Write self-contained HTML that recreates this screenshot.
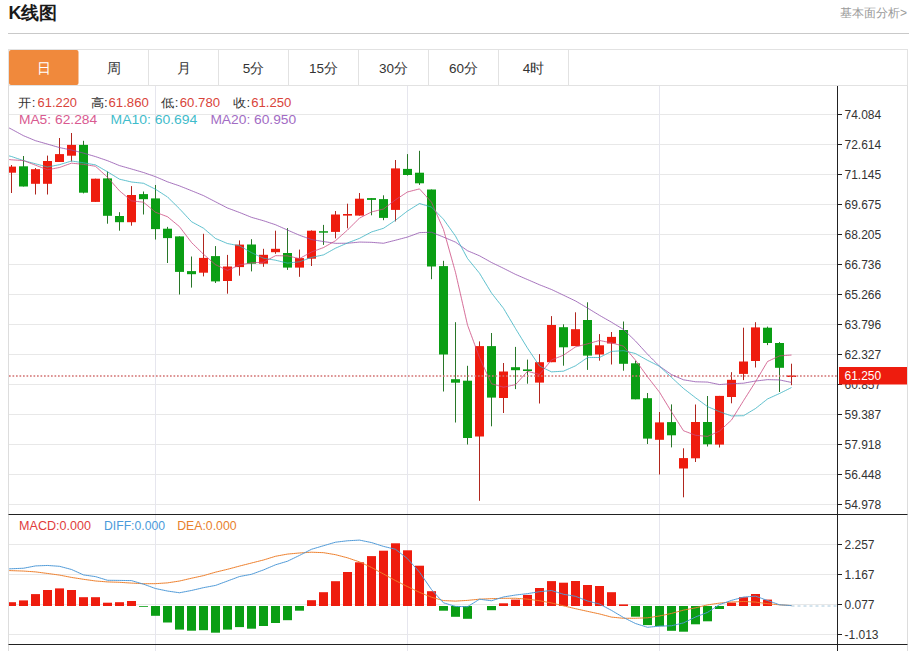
<!DOCTYPE html><html><head><meta charset="utf-8"><title>K线图</title><style>
html,body{margin:0;padding:0;background:#fff;width:914px;height:651px;overflow:hidden;}
svg{display:block;font-family:"Liberation Sans", sans-serif;}
</style></head><body>
<svg width="914" height="651" viewBox="0 0 914 651">
<rect x="0" y="0" width="914" height="651" fill="#fff"/>
<text x="8.5" y="18.8" font-size="18" font-weight="bold" fill="#1a1a1a">K线图</text>
<text x="907" y="16.5" font-size="12" fill="#9a9a9a" text-anchor="end">基本面分析&gt;</text>
<line x1="8" y1="33.5" x2="909" y2="33.5" stroke="#c9c9c9" stroke-width="1"/>
<rect x="8.5" y="49.5" width="899" height="36" fill="#fff" stroke="#e2e2e2" stroke-width="1"/>
<rect x="9" y="50" width="69.5" height="35" rx="2" fill="#f0893c"/>
<text x="43.5" y="72.8" font-size="13.5" fill="#fff" text-anchor="middle">日</text>
<line x1="148.5" y1="50" x2="148.5" y2="85" stroke="#e2e2e2" stroke-width="1"/>
<text x="113.5" y="72.8" font-size="13.5" fill="#333" text-anchor="middle">周</text>
<line x1="218.5" y1="50" x2="218.5" y2="85" stroke="#e2e2e2" stroke-width="1"/>
<text x="183.5" y="72.8" font-size="13.5" fill="#333" text-anchor="middle">月</text>
<line x1="288.5" y1="50" x2="288.5" y2="85" stroke="#e2e2e2" stroke-width="1"/>
<text x="253.5" y="72.8" font-size="13.5" fill="#333" text-anchor="middle">5分</text>
<line x1="358.5" y1="50" x2="358.5" y2="85" stroke="#e2e2e2" stroke-width="1"/>
<text x="323.5" y="72.8" font-size="13.5" fill="#333" text-anchor="middle">15分</text>
<line x1="428.5" y1="50" x2="428.5" y2="85" stroke="#e2e2e2" stroke-width="1"/>
<text x="393.5" y="72.8" font-size="13.5" fill="#333" text-anchor="middle">30分</text>
<line x1="498.5" y1="50" x2="498.5" y2="85" stroke="#e2e2e2" stroke-width="1"/>
<text x="463.5" y="72.8" font-size="13.5" fill="#333" text-anchor="middle">60分</text>
<line x1="568.5" y1="50" x2="568.5" y2="85" stroke="#e2e2e2" stroke-width="1"/>
<text x="533.5" y="72.8" font-size="13.5" fill="#333" text-anchor="middle">4时</text>
<line x1="8.5" y1="85.5" x2="8.5" y2="651" stroke="#dddddd" stroke-width="1"/>
<line x1="907.5" y1="85.5" x2="907.5" y2="651" stroke="#dddddd" stroke-width="1"/>
<line x1="9" y1="114.5" x2="837" y2="114.5" stroke="#e8e8e8" stroke-width="1"/>
<line x1="9" y1="144.5" x2="837" y2="144.5" stroke="#e8e8e8" stroke-width="1"/>
<line x1="9" y1="174.5" x2="837" y2="174.5" stroke="#e8e8e8" stroke-width="1"/>
<line x1="9" y1="204.5" x2="837" y2="204.5" stroke="#e8e8e8" stroke-width="1"/>
<line x1="9" y1="234.5" x2="837" y2="234.5" stroke="#e8e8e8" stroke-width="1"/>
<line x1="9" y1="264.5" x2="837" y2="264.5" stroke="#e8e8e8" stroke-width="1"/>
<line x1="9" y1="294.5" x2="837" y2="294.5" stroke="#e8e8e8" stroke-width="1"/>
<line x1="9" y1="324.5" x2="837" y2="324.5" stroke="#e8e8e8" stroke-width="1"/>
<line x1="9" y1="354.5" x2="837" y2="354.5" stroke="#e8e8e8" stroke-width="1"/>
<line x1="9" y1="384.5" x2="837" y2="384.5" stroke="#e8e8e8" stroke-width="1"/>
<line x1="9" y1="414.5" x2="837" y2="414.5" stroke="#e8e8e8" stroke-width="1"/>
<line x1="9" y1="444.5" x2="837" y2="444.5" stroke="#e8e8e8" stroke-width="1"/>
<line x1="9" y1="474.5" x2="837" y2="474.5" stroke="#e8e8e8" stroke-width="1"/>
<line x1="9" y1="504.5" x2="837" y2="504.5" stroke="#e8e8e8" stroke-width="1"/>
<line x1="9" y1="544.5" x2="837" y2="544.5" stroke="#e8e8e8" stroke-width="1"/>
<line x1="9" y1="574.5" x2="837" y2="574.5" stroke="#e8e8e8" stroke-width="1"/>
<line x1="9" y1="604.5" x2="837" y2="604.5" stroke="#e8e8e8" stroke-width="1"/>
<line x1="9" y1="634.5" x2="837" y2="634.5" stroke="#e8e8e8" stroke-width="1"/>
<line x1="155.5" y1="86" x2="155.5" y2="651" stroke="#e6e6ee" stroke-width="1"/>
<line x1="407.5" y1="86" x2="407.5" y2="651" stroke="#e6e6ee" stroke-width="1"/>
<line x1="659.5" y1="86" x2="659.5" y2="651" stroke="#e6e6ee" stroke-width="1"/>
<line x1="837.5" y1="86" x2="837.5" y2="651" stroke="#222" stroke-width="1"/>
<line x1="8.5" y1="514.5" x2="907.5" y2="514.5" stroke="#222" stroke-width="1"/>
<line x1="8.5" y1="644.5" x2="907.5" y2="644.5" stroke="#222" stroke-width="1"/>
<line x1="838" y1="114.5" x2="842" y2="114.5" stroke="#222" stroke-width="1"/>
<text x="844.5" y="118.8" font-size="12" fill="#333">74.084</text>
<line x1="838" y1="144.5" x2="842" y2="144.5" stroke="#222" stroke-width="1"/>
<text x="844.5" y="148.8" font-size="12" fill="#333">72.614</text>
<line x1="838" y1="174.5" x2="842" y2="174.5" stroke="#222" stroke-width="1"/>
<text x="844.5" y="178.8" font-size="12" fill="#333">71.145</text>
<line x1="838" y1="204.5" x2="842" y2="204.5" stroke="#222" stroke-width="1"/>
<text x="844.5" y="208.8" font-size="12" fill="#333">69.675</text>
<line x1="838" y1="234.5" x2="842" y2="234.5" stroke="#222" stroke-width="1"/>
<text x="844.5" y="238.8" font-size="12" fill="#333">68.205</text>
<line x1="838" y1="264.5" x2="842" y2="264.5" stroke="#222" stroke-width="1"/>
<text x="844.5" y="268.8" font-size="12" fill="#333">66.736</text>
<line x1="838" y1="294.5" x2="842" y2="294.5" stroke="#222" stroke-width="1"/>
<text x="844.5" y="298.8" font-size="12" fill="#333">65.266</text>
<line x1="838" y1="324.5" x2="842" y2="324.5" stroke="#222" stroke-width="1"/>
<text x="844.5" y="328.8" font-size="12" fill="#333">63.796</text>
<line x1="838" y1="354.5" x2="842" y2="354.5" stroke="#222" stroke-width="1"/>
<text x="844.5" y="358.8" font-size="12" fill="#333">62.327</text>
<line x1="838" y1="384.5" x2="842" y2="384.5" stroke="#222" stroke-width="1"/>
<text x="844.5" y="388.8" font-size="12" fill="#333">60.857</text>
<line x1="838" y1="414.5" x2="842" y2="414.5" stroke="#222" stroke-width="1"/>
<text x="844.5" y="418.8" font-size="12" fill="#333">59.387</text>
<line x1="838" y1="444.5" x2="842" y2="444.5" stroke="#222" stroke-width="1"/>
<text x="844.5" y="448.8" font-size="12" fill="#333">57.918</text>
<line x1="838" y1="474.5" x2="842" y2="474.5" stroke="#222" stroke-width="1"/>
<text x="844.5" y="478.8" font-size="12" fill="#333">56.448</text>
<line x1="838" y1="504.5" x2="842" y2="504.5" stroke="#222" stroke-width="1"/>
<text x="844.5" y="508.8" font-size="12" fill="#333">54.978</text>
<line x1="838" y1="544.5" x2="842" y2="544.5" stroke="#222" stroke-width="1"/>
<text x="844.5" y="548.8" font-size="12" fill="#333">2.257</text>
<line x1="838" y1="574.5" x2="842" y2="574.5" stroke="#222" stroke-width="1"/>
<text x="844.5" y="578.8" font-size="12" fill="#333">1.167</text>
<line x1="838" y1="604.5" x2="842" y2="604.5" stroke="#222" stroke-width="1"/>
<text x="844.5" y="608.8" font-size="12" fill="#333">0.077</text>
<line x1="838" y1="634.5" x2="842" y2="634.5" stroke="#222" stroke-width="1"/>
<text x="844.5" y="638.8" font-size="12" fill="#333">-1.013</text>
<defs><clipPath id="cm"><rect x="9" y="86" width="828" height="428"/></clipPath>
<clipPath id="cd"><rect x="9" y="515" width="828" height="129"/></clipPath></defs>
<g clip-path="url(#cm)">
<line x1="11.5" y1="165.0" x2="11.5" y2="193.0" stroke="#b0261e" stroke-width="1"/>
<rect x="7.0" y="166.6" width="9" height="6.1" fill="#ee1c0e"/>
<line x1="23.5" y1="156.0" x2="23.5" y2="186.5" stroke="#287628" stroke-width="1"/>
<rect x="19.0" y="166.3" width="9" height="20.2" fill="#0a9e14"/>
<line x1="35.5" y1="168.0" x2="35.5" y2="194.5" stroke="#b0261e" stroke-width="1"/>
<rect x="31.0" y="169.2" width="9" height="14.6" fill="#ee1c0e"/>
<line x1="47.5" y1="155.6" x2="47.5" y2="194.5" stroke="#b0261e" stroke-width="1"/>
<rect x="43.0" y="161.0" width="9" height="22.8" fill="#ee1c0e"/>
<line x1="59.5" y1="138.0" x2="59.5" y2="162.0" stroke="#b0261e" stroke-width="1"/>
<rect x="55.0" y="154.1" width="9" height="7.9" fill="#ee1c0e"/>
<line x1="71.5" y1="133.0" x2="71.5" y2="161.5" stroke="#b0261e" stroke-width="1"/>
<rect x="67.0" y="144.9" width="9" height="10.8" fill="#ee1c0e"/>
<line x1="83.5" y1="140.8" x2="83.5" y2="193.4" stroke="#287628" stroke-width="1"/>
<rect x="79.0" y="144.9" width="9" height="47.8" fill="#0a9e14"/>
<line x1="95.5" y1="178.7" x2="95.5" y2="201.9" stroke="#b0261e" stroke-width="1"/>
<rect x="91.0" y="178.7" width="9" height="23.2" fill="#ee1c0e"/>
<line x1="107.5" y1="171.5" x2="107.5" y2="223.7" stroke="#287628" stroke-width="1"/>
<rect x="103.0" y="178.4" width="9" height="37.4" fill="#0a9e14"/>
<line x1="119.5" y1="212.2" x2="119.5" y2="230.7" stroke="#287628" stroke-width="1"/>
<rect x="115.0" y="216.0" width="9" height="6.2" fill="#0a9e14"/>
<line x1="131.5" y1="186.1" x2="131.5" y2="225.7" stroke="#b0261e" stroke-width="1"/>
<rect x="127.0" y="195.0" width="9" height="27.2" fill="#ee1c0e"/>
<line x1="143.5" y1="191.5" x2="143.5" y2="214.5" stroke="#287628" stroke-width="1"/>
<rect x="139.0" y="194.1" width="9" height="5.1" fill="#0a9e14"/>
<line x1="155.5" y1="185.0" x2="155.5" y2="239.5" stroke="#287628" stroke-width="1"/>
<rect x="151.0" y="198.4" width="9" height="30.7" fill="#0a9e14"/>
<line x1="167.5" y1="226.9" x2="167.5" y2="263.0" stroke="#287628" stroke-width="1"/>
<rect x="163.0" y="228.7" width="9" height="9.4" fill="#0a9e14"/>
<line x1="179.5" y1="236.4" x2="179.5" y2="294.5" stroke="#287628" stroke-width="1"/>
<rect x="175.0" y="236.4" width="9" height="35.5" fill="#0a9e14"/>
<line x1="191.5" y1="256.5" x2="191.5" y2="287.6" stroke="#287628" stroke-width="1"/>
<rect x="187.0" y="271.1" width="9" height="3.1" fill="#0a9e14"/>
<line x1="203.5" y1="233.8" x2="203.5" y2="276.4" stroke="#b0261e" stroke-width="1"/>
<rect x="199.0" y="257.9" width="9" height="14.8" fill="#ee1c0e"/>
<line x1="215.5" y1="246.1" x2="215.5" y2="283.0" stroke="#287628" stroke-width="1"/>
<rect x="211.0" y="256.1" width="9" height="25.3" fill="#0a9e14"/>
<line x1="227.5" y1="254.9" x2="227.5" y2="293.7" stroke="#b0261e" stroke-width="1"/>
<rect x="223.0" y="266.5" width="9" height="14.5" fill="#ee1c0e"/>
<line x1="239.5" y1="240.4" x2="239.5" y2="275.7" stroke="#b0261e" stroke-width="1"/>
<rect x="235.0" y="244.6" width="9" height="22.5" fill="#ee1c0e"/>
<line x1="251.5" y1="239.2" x2="251.5" y2="271.4" stroke="#287628" stroke-width="1"/>
<rect x="247.0" y="244.5" width="9" height="19.2" fill="#0a9e14"/>
<line x1="263.5" y1="248.8" x2="263.5" y2="266.8" stroke="#b0261e" stroke-width="1"/>
<rect x="259.0" y="254.8" width="9" height="8.9" fill="#ee1c0e"/>
<line x1="275.5" y1="230.7" x2="275.5" y2="253.8" stroke="#b0261e" stroke-width="1"/>
<rect x="271.0" y="248.8" width="9" height="3.4" fill="#ee1c0e"/>
<line x1="287.5" y1="228.1" x2="287.5" y2="269.9" stroke="#287628" stroke-width="1"/>
<rect x="283.0" y="253.0" width="9" height="14.6" fill="#0a9e14"/>
<line x1="299.5" y1="249.6" x2="299.5" y2="276.8" stroke="#b0261e" stroke-width="1"/>
<rect x="295.0" y="258.1" width="9" height="9.5" fill="#ee1c0e"/>
<line x1="311.5" y1="230.4" x2="311.5" y2="266.0" stroke="#b0261e" stroke-width="1"/>
<rect x="307.0" y="230.7" width="9" height="28.0" fill="#ee1c0e"/>
<line x1="323.5" y1="224.9" x2="323.5" y2="244.9" stroke="#287628" stroke-width="1"/>
<rect x="319.0" y="231.2" width="9" height="1.5" fill="#0a9e14"/>
<line x1="335.5" y1="211.0" x2="335.5" y2="238.4" stroke="#b0261e" stroke-width="1"/>
<rect x="331.0" y="214.5" width="9" height="17.4" fill="#ee1c0e"/>
<line x1="347.5" y1="203.7" x2="347.5" y2="228.3" stroke="#b0261e" stroke-width="1"/>
<rect x="343.0" y="214.0" width="9" height="1.6" fill="#ee1c0e"/>
<line x1="359.5" y1="193.0" x2="359.5" y2="215.6" stroke="#b0261e" stroke-width="1"/>
<rect x="355.0" y="198.7" width="9" height="16.9" fill="#ee1c0e"/>
<line x1="371.5" y1="198.1" x2="371.5" y2="215.3" stroke="#287628" stroke-width="1"/>
<rect x="367.0" y="198.1" width="9" height="1.8" fill="#0a9e14"/>
<line x1="383.5" y1="195.3" x2="383.5" y2="220.2" stroke="#287628" stroke-width="1"/>
<rect x="379.0" y="199.1" width="9" height="18.8" fill="#0a9e14"/>
<line x1="395.5" y1="160.0" x2="395.5" y2="221.4" stroke="#b0261e" stroke-width="1"/>
<rect x="391.0" y="168.4" width="9" height="41.5" fill="#ee1c0e"/>
<line x1="407.5" y1="154.1" x2="407.5" y2="175.6" stroke="#287628" stroke-width="1"/>
<rect x="403.0" y="168.9" width="9" height="6.1" fill="#0a9e14"/>
<line x1="419.5" y1="150.8" x2="419.5" y2="184.9" stroke="#287628" stroke-width="1"/>
<rect x="415.0" y="172.7" width="9" height="10.6" fill="#0a9e14"/>
<line x1="431.5" y1="189.5" x2="431.5" y2="279.2" stroke="#287628" stroke-width="1"/>
<rect x="427.0" y="189.5" width="9" height="77.0" fill="#0a9e14"/>
<line x1="443.5" y1="260.8" x2="443.5" y2="391.5" stroke="#287628" stroke-width="1"/>
<rect x="439.0" y="266.1" width="9" height="88.4" fill="#0a9e14"/>
<line x1="455.5" y1="322.2" x2="455.5" y2="422.5" stroke="#287628" stroke-width="1"/>
<rect x="451.0" y="379.2" width="9" height="3.5" fill="#0a9e14"/>
<line x1="467.5" y1="365.8" x2="467.5" y2="444.5" stroke="#287628" stroke-width="1"/>
<rect x="463.0" y="380.7" width="9" height="57.3" fill="#0a9e14"/>
<line x1="479.5" y1="341.4" x2="479.5" y2="500.8" stroke="#b0261e" stroke-width="1"/>
<rect x="475.0" y="346.1" width="9" height="90.4" fill="#ee1c0e"/>
<line x1="491.5" y1="333.0" x2="491.5" y2="426.3" stroke="#287628" stroke-width="1"/>
<rect x="487.0" y="346.1" width="9" height="51.5" fill="#0a9e14"/>
<line x1="503.5" y1="363.0" x2="503.5" y2="413.0" stroke="#b0261e" stroke-width="1"/>
<rect x="499.0" y="371.5" width="9" height="26.5" fill="#ee1c0e"/>
<line x1="515.5" y1="346.9" x2="515.5" y2="389.1" stroke="#287628" stroke-width="1"/>
<rect x="511.0" y="367.2" width="9" height="3.0" fill="#0a9e14"/>
<line x1="527.5" y1="359.6" x2="527.5" y2="383.7" stroke="#287628" stroke-width="1"/>
<rect x="523.0" y="369.4" width="9" height="1.6" fill="#0a9e14"/>
<line x1="539.5" y1="354.1" x2="539.5" y2="403.5" stroke="#b0261e" stroke-width="1"/>
<rect x="535.0" y="362.2" width="9" height="20.4" fill="#ee1c0e"/>
<line x1="551.5" y1="316.1" x2="551.5" y2="362.2" stroke="#b0261e" stroke-width="1"/>
<rect x="547.0" y="325.0" width="9" height="37.2" fill="#ee1c0e"/>
<line x1="563.5" y1="324.3" x2="563.5" y2="365.7" stroke="#287628" stroke-width="1"/>
<rect x="559.0" y="327.2" width="9" height="20.1" fill="#0a9e14"/>
<line x1="575.5" y1="312.3" x2="575.5" y2="346.1" stroke="#b0261e" stroke-width="1"/>
<rect x="571.0" y="329.2" width="9" height="16.9" fill="#ee1c0e"/>
<line x1="587.5" y1="302.3" x2="587.5" y2="369.9" stroke="#287628" stroke-width="1"/>
<rect x="583.0" y="320.0" width="9" height="35.6" fill="#0a9e14"/>
<line x1="599.5" y1="334.1" x2="599.5" y2="360.7" stroke="#b0261e" stroke-width="1"/>
<rect x="595.0" y="345.3" width="9" height="9.2" fill="#ee1c0e"/>
<line x1="611.5" y1="332.0" x2="611.5" y2="364.5" stroke="#b0261e" stroke-width="1"/>
<rect x="607.0" y="336.9" width="9" height="6.6" fill="#ee1c0e"/>
<line x1="623.5" y1="321.5" x2="623.5" y2="370.7" stroke="#287628" stroke-width="1"/>
<rect x="619.0" y="330.0" width="9" height="33.8" fill="#0a9e14"/>
<line x1="635.5" y1="360.7" x2="635.5" y2="399.3" stroke="#287628" stroke-width="1"/>
<rect x="631.0" y="363.3" width="9" height="36.0" fill="#0a9e14"/>
<line x1="647.5" y1="393.0" x2="647.5" y2="444.0" stroke="#287628" stroke-width="1"/>
<rect x="643.0" y="398.2" width="9" height="40.4" fill="#0a9e14"/>
<line x1="659.5" y1="412.0" x2="659.5" y2="474.5" stroke="#b0261e" stroke-width="1"/>
<rect x="655.0" y="422.4" width="9" height="17.4" fill="#ee1c0e"/>
<line x1="671.5" y1="404.4" x2="671.5" y2="447.4" stroke="#287628" stroke-width="1"/>
<rect x="667.0" y="422.1" width="9" height="13.2" fill="#0a9e14"/>
<line x1="683.5" y1="448.3" x2="683.5" y2="497.3" stroke="#b0261e" stroke-width="1"/>
<rect x="679.0" y="458.1" width="9" height="10.4" fill="#ee1c0e"/>
<line x1="695.5" y1="404.5" x2="695.5" y2="462.0" stroke="#b0261e" stroke-width="1"/>
<rect x="691.0" y="422.0" width="9" height="36.3" fill="#ee1c0e"/>
<line x1="707.5" y1="396.0" x2="707.5" y2="446.5" stroke="#287628" stroke-width="1"/>
<rect x="703.0" y="422.0" width="9" height="22.3" fill="#0a9e14"/>
<line x1="719.5" y1="395.9" x2="719.5" y2="447.5" stroke="#b0261e" stroke-width="1"/>
<rect x="715.0" y="395.9" width="9" height="48.7" fill="#ee1c0e"/>
<line x1="731.5" y1="372.2" x2="731.5" y2="403.3" stroke="#b0261e" stroke-width="1"/>
<rect x="727.0" y="379.8" width="9" height="17.2" fill="#ee1c0e"/>
<line x1="743.5" y1="327.7" x2="743.5" y2="380.1" stroke="#b0261e" stroke-width="1"/>
<rect x="739.0" y="361.5" width="9" height="12.4" fill="#ee1c0e"/>
<line x1="755.5" y1="322.2" x2="755.5" y2="367.5" stroke="#b0261e" stroke-width="1"/>
<rect x="751.0" y="327.4" width="9" height="33.6" fill="#ee1c0e"/>
<line x1="767.5" y1="326.6" x2="767.5" y2="345.1" stroke="#287628" stroke-width="1"/>
<rect x="763.0" y="327.7" width="9" height="15.3" fill="#0a9e14"/>
<line x1="779.5" y1="342.1" x2="779.5" y2="392.0" stroke="#287628" stroke-width="1"/>
<rect x="775.0" y="343.0" width="9" height="24.8" fill="#0a9e14"/>
<line x1="791.5" y1="363.7" x2="791.5" y2="385.2" stroke="#b0261e" stroke-width="1"/>
<rect x="787.0" y="375.5" width="9" height="1.5" fill="#ee1c0e"/>
<line x1="9" y1="376" x2="837" y2="376" stroke="#d27272" stroke-width="1.5" stroke-dasharray="1.7,1.8"/>
<path d="M-0.50,123.00 C-0.50,123.00 11.50,129.20 11.50,129.20 C11.50,129.20 23.50,135.70 23.50,135.70 C23.50,135.70 35.50,140.70 35.50,140.70 C35.50,140.70 47.50,144.10 47.50,144.10 C47.50,144.10 59.50,147.60 59.50,147.60 C59.50,147.60 71.50,150.00 71.50,150.00 C71.50,150.00 83.50,153.10 83.50,153.10 C83.50,153.10 95.50,156.60 95.50,156.60 C95.50,156.60 107.50,160.70 107.50,160.70 C107.50,160.70 119.50,165.60 119.50,165.60 C119.50,165.60 131.50,169.00 131.50,169.00 C131.50,169.00 143.50,172.50 143.50,172.50 C143.50,172.50 155.50,176.70 155.50,176.70 C155.50,176.70 167.50,181.80 167.50,181.80 C167.50,181.80 179.50,185.90 179.50,185.90 C179.50,185.90 191.50,190.70 191.50,190.70 C191.50,190.70 203.50,195.60 203.50,195.60 C203.50,195.60 215.50,201.80 215.50,201.80 C215.50,201.80 227.50,208.00 227.50,208.00 C227.50,208.00 239.50,212.48 239.50,212.48 C239.50,212.48 251.50,217.33 251.50,217.33 C251.50,217.33 263.50,220.75 263.50,220.75 C263.50,220.75 275.50,224.73 275.50,224.73 C275.50,224.73 287.50,230.06 287.50,230.06 C287.50,230.06 299.50,235.26 299.50,235.26 C299.50,235.26 311.50,239.55 311.50,239.55 C311.50,239.55 323.50,241.55 323.50,241.55 C323.50,241.55 335.50,243.34 335.50,243.34 C335.50,243.34 347.50,243.25 347.50,243.25 C347.50,243.25 359.50,242.07 359.50,242.07 C359.50,242.07 371.50,242.32 371.50,242.32 C371.50,242.32 383.50,243.26 383.50,243.26 C383.50,243.26 395.50,240.22 395.50,240.22 C395.50,240.22 407.50,237.06 407.50,237.06 C407.50,237.06 419.50,232.63 419.50,232.63 C419.50,232.63 431.50,232.25 431.50,232.25 C431.50,232.25 443.50,237.08 443.50,237.08 C443.50,237.08 455.50,242.14 455.50,242.14 C455.50,242.14 467.50,250.72 467.50,250.72 C467.50,250.72 479.50,255.79 479.50,255.79 C479.50,255.79 491.50,262.49 491.50,262.49 C491.50,262.49 503.50,268.32 503.50,268.32 C503.50,268.32 515.50,274.39 515.50,274.39 C515.50,274.39 527.50,279.56 527.50,279.56 C527.50,279.56 539.50,284.77 539.50,284.77 C539.50,284.77 551.50,289.49 551.50,289.49 C551.50,289.49 563.50,295.22 563.50,295.22 C563.50,295.22 575.50,300.95 575.50,300.95 C575.50,300.95 587.50,308.03 587.50,308.03 C587.50,308.03 599.50,315.36 599.50,315.36 C599.50,315.36 611.50,322.21 611.50,322.21 C611.50,322.21 623.50,329.50 623.50,329.50 C623.50,329.50 635.50,341.05 635.50,341.05 C635.50,341.05 647.50,354.23 647.50,354.23 C647.50,354.23 659.50,366.19 659.50,366.19 C659.50,366.19 671.50,374.62 671.50,374.62 C671.50,374.62 683.50,379.81 683.50,379.81 C683.50,379.81 695.50,381.77 695.50,381.77 C695.50,381.77 707.50,382.08 707.50,382.08 C707.50,382.08 719.50,384.57 719.50,384.57 C719.50,384.57 731.50,383.69 731.50,383.69 C731.50,383.69 743.50,383.19 743.50,383.19 C743.50,383.19 755.50,381.04 755.50,381.04 C755.50,381.04 767.50,379.64 767.50,379.64 C767.50,379.64 779.50,379.93 779.50,379.93 C779.50,379.93 791.50,382.45 791.50,382.45" fill="none" stroke="#9050ac" stroke-width="1" stroke-opacity="0.8"/>
<path d="M-0.50,153.50 C-0.50,153.50 11.50,156.50 11.50,156.50 C11.50,156.50 23.50,160.60 23.50,160.60 C23.50,160.60 35.50,163.80 35.50,163.80 C35.50,163.80 47.50,167.00 47.50,167.00 C47.50,167.00 59.50,164.70 59.50,164.70 C59.50,164.70 71.50,161.00 71.50,161.00 C71.50,161.00 83.50,162.80 83.50,162.80 C83.50,162.80 95.50,164.90 95.50,164.90 C95.50,164.90 107.50,171.80 107.50,171.80 C107.50,171.80 119.50,179.17 119.50,179.17 C119.50,179.17 131.50,182.01 131.50,182.01 C131.50,182.01 143.50,183.28 143.50,183.28 C143.50,183.28 155.50,189.27 155.50,189.27 C155.50,189.27 167.50,196.98 167.50,196.98 C167.50,196.98 179.50,208.76 179.50,208.76 C179.50,208.76 191.50,221.69 191.50,221.69 C191.50,221.69 203.50,228.21 203.50,228.21 C203.50,228.21 215.50,238.48 215.50,238.48 C215.50,238.48 227.50,243.55 227.50,243.55 C227.50,243.55 239.50,245.79 239.50,245.79 C239.50,245.79 251.50,252.66 251.50,252.66 C251.50,252.66 263.50,258.22 263.50,258.22 C263.50,258.22 275.50,260.19 275.50,260.19 C275.50,260.19 287.50,263.14 287.50,263.14 C287.50,263.14 299.50,261.76 299.50,261.76 C299.50,261.76 311.50,257.41 311.50,257.41 C311.50,257.41 323.50,254.89 323.50,254.89 C323.50,254.89 335.50,248.20 335.50,248.20 C335.50,248.20 347.50,242.95 347.50,242.95 C347.50,242.95 359.50,238.36 359.50,238.36 C359.50,238.36 371.50,231.98 371.50,231.98 C371.50,231.98 383.50,228.29 383.50,228.29 C383.50,228.29 395.50,220.25 395.50,220.25 C395.50,220.25 407.50,210.99 407.50,210.99 C407.50,210.99 419.50,203.51 419.50,203.51 C419.50,203.51 431.50,207.09 431.50,207.09 C431.50,207.09 443.50,219.27 443.50,219.27 C443.50,219.27 455.50,236.09 455.50,236.09 C455.50,236.09 467.50,258.49 467.50,258.49 C467.50,258.49 479.50,273.23 479.50,273.23 C479.50,273.23 491.50,293.00 491.50,293.00 C491.50,293.00 503.50,308.36 503.50,308.36 C503.50,308.36 515.50,328.54 515.50,328.54 C515.50,328.54 527.50,348.14 527.50,348.14 C527.50,348.14 539.50,366.03 539.50,366.03 C539.50,366.03 551.50,371.88 551.50,371.88 C551.50,371.88 563.50,371.16 563.50,371.16 C563.50,371.16 575.50,365.81 575.50,365.81 C575.50,365.81 587.50,357.57 587.50,357.57 C587.50,357.57 599.50,357.49 599.50,357.49 C599.50,357.49 611.50,351.42 611.50,351.42 C611.50,351.42 623.50,350.65 623.50,350.65 C623.50,350.65 635.50,353.56 635.50,353.56 C635.50,353.56 647.50,360.32 647.50,360.32 C647.50,360.32 659.50,366.34 659.50,366.34 C659.50,366.34 671.50,377.37 671.50,377.37 C671.50,377.37 683.50,388.45 683.50,388.45 C683.50,388.45 695.50,397.73 695.50,397.73 C695.50,397.73 707.50,406.60 707.50,406.60 C707.50,406.60 719.50,411.66 719.50,411.66 C719.50,411.66 731.50,415.95 731.50,415.95 C731.50,415.95 743.50,415.72 743.50,415.72 C743.50,415.72 755.50,408.53 755.50,408.53 C755.50,408.53 767.50,398.97 767.50,398.97 C767.50,398.97 779.50,393.51 779.50,393.51 C779.50,393.51 791.50,387.53 791.50,387.53" fill="none" stroke="#36b0c0" stroke-width="1" stroke-opacity="0.8"/>
<path d="M-0.50,158.50 C-0.50,158.50 11.50,159.80 11.50,159.80 C11.50,159.80 23.50,160.60 23.50,160.60 C23.50,160.60 35.50,165.20 35.50,165.20 C35.50,165.20 47.50,169.80 47.50,169.80 C47.50,169.80 59.50,167.48 59.50,167.48 C59.50,167.48 71.50,163.14 71.50,163.14 C71.50,163.14 83.50,164.38 83.50,164.38 C83.50,164.38 95.50,166.28 95.50,166.28 C95.50,166.28 107.50,177.24 107.50,177.24 C107.50,177.24 119.50,190.86 119.50,190.86 C119.50,190.86 131.50,200.88 131.50,200.88 C131.50,200.88 143.50,202.18 143.50,202.18 C143.50,202.18 155.50,212.26 155.50,212.26 C155.50,212.26 167.50,216.72 167.50,216.72 C167.50,216.72 179.50,226.66 179.50,226.66 C179.50,226.66 191.50,242.50 191.50,242.50 C191.50,242.50 203.50,254.24 203.50,254.24 C203.50,254.24 215.50,264.70 215.50,264.70 C215.50,264.70 227.50,270.38 227.50,270.38 C227.50,270.38 239.50,264.92 239.50,264.92 C239.50,264.92 251.50,262.82 251.50,262.82 C251.50,262.82 263.50,262.20 263.50,262.20 C263.50,262.20 275.50,255.68 275.50,255.68 C275.50,255.68 287.50,255.90 287.50,255.90 C287.50,255.90 299.50,258.60 299.50,258.60 C299.50,258.60 311.50,252.00 311.50,252.00 C311.50,252.00 323.50,247.58 323.50,247.58 C323.50,247.58 335.50,240.72 335.50,240.72 C335.50,240.72 347.50,230.00 347.50,230.00 C347.50,230.00 359.50,218.12 359.50,218.12 C359.50,218.12 371.50,211.96 371.50,211.96 C371.50,211.96 383.50,209.00 383.50,209.00 C383.50,209.00 395.50,199.78 395.50,199.78 C395.50,199.78 407.50,191.98 407.50,191.98 C407.50,191.98 419.50,188.90 419.50,188.90 C419.50,188.90 431.50,202.22 431.50,202.22 C431.50,202.22 443.50,229.54 443.50,229.54 C443.50,229.54 455.50,272.40 455.50,272.40 C455.50,272.40 467.50,325.00 467.50,325.00 C467.50,325.00 479.50,357.56 479.50,357.56 C479.50,357.56 491.50,383.78 491.50,383.78 C491.50,383.78 503.50,387.18 503.50,387.18 C503.50,387.18 515.50,384.68 515.50,384.68 C515.50,384.68 527.50,371.28 527.50,371.28 C527.50,371.28 539.50,374.50 539.50,374.50 C539.50,374.50 551.50,359.98 551.50,359.98 C551.50,359.98 563.50,355.14 563.50,355.14 C563.50,355.14 575.50,346.94 575.50,346.94 C575.50,346.94 587.50,343.86 587.50,343.86 C587.50,343.86 599.50,340.48 599.50,340.48 C599.50,340.48 611.50,342.86 611.50,342.86 C611.50,342.86 623.50,346.16 623.50,346.16 C623.50,346.16 635.50,360.18 635.50,360.18 C635.50,360.18 647.50,376.78 647.50,376.78 C647.50,376.78 659.50,392.20 659.50,392.20 C659.50,392.20 671.50,411.88 671.50,411.88 C671.50,411.88 683.50,430.74 683.50,430.74 C683.50,430.74 695.50,435.28 695.50,435.28 C695.50,435.28 707.50,436.42 707.50,436.42 C707.50,436.42 719.50,431.12 719.50,431.12 C719.50,431.12 731.50,420.02 731.50,420.02 C731.50,420.02 743.50,400.70 743.50,400.70 C743.50,400.70 755.50,381.78 755.50,381.78 C755.50,381.78 767.50,361.52 767.50,361.52 C767.50,361.52 779.50,355.90 779.50,355.90 C779.50,355.90 791.50,355.04 791.50,355.04" fill="none" stroke="#cc4a80" stroke-width="1" stroke-opacity="0.8"/>
</g>
<rect x="839" y="367" width="68" height="17.5" fill="#ee1c0e"/>
<text x="844.5" y="380.3" font-size="12" fill="#fff">61.250</text>
<text x="18.4" y="106.8" font-size="12" fill="#333" textLength="17" lengthAdjust="spacingAndGlyphs">开:</text>
<text x="37.6" y="106.8" font-size="12" fill="#d9443a" textLength="39.4" lengthAdjust="spacingAndGlyphs">61.220</text>
<text x="90.7" y="106.8" font-size="12" fill="#333" textLength="17" lengthAdjust="spacingAndGlyphs">高:</text>
<text x="108.5" y="106.8" font-size="12" fill="#d9443a" textLength="40.3" lengthAdjust="spacingAndGlyphs">61.860</text>
<text x="161.4" y="106.8" font-size="12" fill="#333" textLength="17" lengthAdjust="spacingAndGlyphs">低:</text>
<text x="179.8" y="106.8" font-size="12" fill="#d9443a" textLength="40.2" lengthAdjust="spacingAndGlyphs">60.780</text>
<text x="233.2" y="106.8" font-size="12" fill="#333" textLength="17" lengthAdjust="spacingAndGlyphs">收:</text>
<text x="251.2" y="106.8" font-size="12" fill="#d9443a" textLength="40.2" lengthAdjust="spacingAndGlyphs">61.250</text>
<text x="18.9" y="124.4" font-size="12" fill="#d95a90" textLength="78.3" lengthAdjust="spacingAndGlyphs">MA5: 62.284</text>
<text x="110.6" y="124.4" font-size="12" fill="#3fbccb" textLength="86.7" lengthAdjust="spacingAndGlyphs">MA10: 60.694</text>
<text x="210.4" y="124.4" font-size="12" fill="#a26cc4" textLength="85.8" lengthAdjust="spacingAndGlyphs">MA20: 60.950</text>
<text x="19.1" y="530.2" font-size="12" fill="#e03c3c" textLength="71.9" lengthAdjust="spacingAndGlyphs">MACD:0.000</text>
<text x="104" y="530.2" font-size="12" fill="#4a9ada" textLength="61" lengthAdjust="spacingAndGlyphs">DIFF:0.000</text>
<text x="177.2" y="530.2" font-size="12" fill="#e8802c" textLength="59.4" lengthAdjust="spacingAndGlyphs">DEA:0.000</text>
<g clip-path="url(#cd)">
<line x1="791.5" y1="606" x2="837" y2="606" stroke="#a8c8dc" stroke-width="1" stroke-dasharray="3,3"/>
<rect x="7.0" y="602.2" width="9" height="3.8" fill="#ee1c0e"/>
<rect x="19.0" y="600.4" width="9" height="5.6" fill="#ee1c0e"/>
<rect x="31.0" y="594.1" width="9" height="11.9" fill="#ee1c0e"/>
<rect x="43.0" y="590.0" width="9" height="16.0" fill="#ee1c0e"/>
<rect x="55.0" y="588.4" width="9" height="17.6" fill="#ee1c0e"/>
<rect x="67.0" y="590.0" width="9" height="16.0" fill="#ee1c0e"/>
<rect x="79.0" y="597.2" width="9" height="8.8" fill="#ee1c0e"/>
<rect x="91.0" y="597.2" width="9" height="8.8" fill="#ee1c0e"/>
<rect x="103.0" y="602.7" width="9" height="3.3" fill="#ee1c0e"/>
<rect x="115.0" y="602.2" width="9" height="3.8" fill="#ee1c0e"/>
<rect x="127.0" y="601.0" width="9" height="5.0" fill="#ee1c0e"/>
<rect x="139.0" y="606.0" width="9" height="0.8" fill="#0a9e14"/>
<rect x="151.0" y="606.0" width="9" height="9.8" fill="#0a9e14"/>
<rect x="163.0" y="606.0" width="9" height="16.5" fill="#0a9e14"/>
<rect x="175.0" y="606.0" width="9" height="23.6" fill="#0a9e14"/>
<rect x="187.0" y="606.0" width="9" height="24.7" fill="#0a9e14"/>
<rect x="199.0" y="606.0" width="9" height="24.2" fill="#0a9e14"/>
<rect x="211.0" y="606.0" width="9" height="26.7" fill="#0a9e14"/>
<rect x="223.0" y="606.0" width="9" height="23.6" fill="#0a9e14"/>
<rect x="235.0" y="606.0" width="9" height="21.1" fill="#0a9e14"/>
<rect x="247.0" y="606.0" width="9" height="22.7" fill="#0a9e14"/>
<rect x="259.0" y="606.0" width="9" height="20.0" fill="#0a9e14"/>
<rect x="271.0" y="606.0" width="9" height="17.0" fill="#0a9e14"/>
<rect x="283.0" y="606.0" width="9" height="14.2" fill="#0a9e14"/>
<rect x="295.0" y="606.0" width="9" height="4.7" fill="#0a9e14"/>
<rect x="307.0" y="600.2" width="9" height="5.8" fill="#ee1c0e"/>
<rect x="319.0" y="592.2" width="9" height="13.8" fill="#ee1c0e"/>
<rect x="331.0" y="581.2" width="9" height="24.8" fill="#ee1c0e"/>
<rect x="343.0" y="572.0" width="9" height="34.0" fill="#ee1c0e"/>
<rect x="355.0" y="562.3" width="9" height="43.7" fill="#ee1c0e"/>
<rect x="367.0" y="556.1" width="9" height="49.9" fill="#ee1c0e"/>
<rect x="379.0" y="550.7" width="9" height="55.3" fill="#ee1c0e"/>
<rect x="391.0" y="543.3" width="9" height="62.7" fill="#ee1c0e"/>
<rect x="403.0" y="550.3" width="9" height="55.7" fill="#ee1c0e"/>
<rect x="415.0" y="565.7" width="9" height="40.3" fill="#ee1c0e"/>
<rect x="427.0" y="591.2" width="9" height="14.8" fill="#ee1c0e"/>
<rect x="439.0" y="606.0" width="9" height="4.7" fill="#0a9e14"/>
<rect x="451.0" y="606.0" width="9" height="10.8" fill="#0a9e14"/>
<rect x="463.0" y="606.0" width="9" height="12.8" fill="#0a9e14"/>
<rect x="487.0" y="606.0" width="9" height="4.2" fill="#0a9e14"/>
<rect x="499.0" y="603.3" width="9" height="2.7" fill="#ee1c0e"/>
<rect x="511.0" y="599.6" width="9" height="6.4" fill="#ee1c0e"/>
<rect x="523.0" y="594.9" width="9" height="11.1" fill="#ee1c0e"/>
<rect x="535.0" y="588.0" width="9" height="18.0" fill="#ee1c0e"/>
<rect x="547.0" y="581.1" width="9" height="24.9" fill="#ee1c0e"/>
<rect x="559.0" y="582.7" width="9" height="23.3" fill="#ee1c0e"/>
<rect x="571.0" y="581.0" width="9" height="25.0" fill="#ee1c0e"/>
<rect x="583.0" y="585.0" width="9" height="21.0" fill="#ee1c0e"/>
<rect x="595.0" y="586.0" width="9" height="20.0" fill="#ee1c0e"/>
<rect x="607.0" y="592.2" width="9" height="13.8" fill="#ee1c0e"/>
<rect x="619.0" y="604.4" width="9" height="1.6" fill="#ee1c0e"/>
<rect x="631.0" y="606.0" width="9" height="10.7" fill="#0a9e14"/>
<rect x="643.0" y="606.0" width="9" height="19.1" fill="#0a9e14"/>
<rect x="655.0" y="606.0" width="9" height="20.2" fill="#0a9e14"/>
<rect x="667.0" y="606.0" width="9" height="24.8" fill="#0a9e14"/>
<rect x="679.0" y="606.0" width="9" height="25.7" fill="#0a9e14"/>
<rect x="691.0" y="606.0" width="9" height="18.3" fill="#0a9e14"/>
<rect x="703.0" y="606.0" width="9" height="15.3" fill="#0a9e14"/>
<rect x="715.0" y="606.0" width="9" height="3.0" fill="#0a9e14"/>
<rect x="727.0" y="602.6" width="9" height="3.4" fill="#ee1c0e"/>
<rect x="739.0" y="597.2" width="9" height="8.8" fill="#ee1c0e"/>
<rect x="751.0" y="594.0" width="9" height="12.0" fill="#ee1c0e"/>
<rect x="763.0" y="599.6" width="9" height="6.4" fill="#ee1c0e"/>
<path d="M-0.50,570.24 C-0.50,570.24 11.50,570.65 11.50,570.65 C11.50,570.65 23.50,571.06 23.50,571.06 C23.50,571.06 35.50,571.88 35.50,571.88 C35.50,571.88 47.50,573.45 47.50,573.45 C47.50,573.45 59.50,575.09 59.50,575.09 C59.50,575.09 71.50,577.42 71.50,577.42 C71.50,577.42 83.50,579.29 83.50,579.29 C83.50,579.29 95.50,580.98 95.50,580.98 C95.50,580.98 107.50,581.92 107.50,581.92 C107.50,581.92 119.50,582.30 119.50,582.30 C119.50,582.30 131.50,583.08 131.50,583.08 C131.50,583.08 143.50,583.73 143.50,583.73 C143.50,583.73 155.50,583.66 155.50,583.66 C155.50,583.66 167.50,582.86 167.50,582.86 C167.50,582.86 179.50,581.03 179.50,581.03 C179.50,581.03 191.50,578.23 191.50,578.23 C191.50,578.23 203.50,575.64 203.50,575.64 C203.50,575.64 215.50,572.17 215.50,572.17 C215.50,572.17 227.50,569.29 227.50,569.29 C227.50,569.29 239.50,566.07 239.50,566.07 C239.50,566.07 251.50,563.02 251.50,563.02 C251.50,563.02 263.50,559.99 263.50,559.99 C263.50,559.99 275.50,556.29 275.50,556.29 C275.50,556.29 287.50,554.08 287.50,554.08 C287.50,554.08 299.50,552.99 299.50,552.99 C299.50,552.99 311.50,552.21 311.50,552.21 C311.50,552.21 323.50,552.67 323.50,552.67 C323.50,552.67 335.50,554.69 335.50,554.69 C335.50,554.69 347.50,557.82 347.50,557.82 C347.50,557.82 359.50,561.90 359.50,561.90 C359.50,561.90 371.50,567.44 371.50,567.44 C371.50,567.44 383.50,574.01 383.50,574.01 C383.50,574.01 395.50,580.63 395.50,580.63 C395.50,580.63 407.50,586.59 407.50,586.59 C407.50,586.59 419.50,592.36 419.50,592.36 C419.50,592.36 431.50,597.21 431.50,597.21 C431.50,597.21 443.50,600.60 443.50,600.60 C443.50,600.60 455.50,601.11 455.50,601.11 C455.50,601.11 467.50,600.38 467.50,600.38 C467.50,600.38 479.50,599.20 479.50,599.20 C479.50,599.20 491.50,598.64 491.50,598.64 C491.50,598.64 503.50,598.33 503.50,598.33 C503.50,598.33 515.50,598.26 515.50,598.26 C515.50,598.26 527.50,599.16 527.50,599.16 C527.50,599.16 539.50,600.72 539.50,600.72 C539.50,600.72 551.50,602.97 551.50,602.97 C551.50,602.97 563.50,605.84 563.50,605.84 C563.50,605.84 575.50,608.68 575.50,608.68 C575.50,608.68 587.50,611.34 587.50,611.34 C587.50,611.34 599.50,613.94 599.50,613.94 C599.50,613.94 611.50,617.11 611.50,617.11 C611.50,617.11 623.50,618.28 623.50,618.28 C623.50,618.28 635.50,618.27 635.50,618.27 C635.50,618.27 647.50,617.80 647.50,617.80 C647.50,617.80 659.50,615.99 659.50,615.99 C659.50,615.99 671.50,613.41 671.50,613.41 C671.50,613.41 683.50,610.12 683.50,610.12 C683.50,610.12 695.50,607.89 695.50,607.89 C695.50,607.89 707.50,604.89 707.50,604.89 C707.50,604.89 719.50,603.11 719.50,603.11 C719.50,603.11 731.50,602.02 731.50,602.02 C731.50,602.02 743.50,601.49 743.50,601.49 C743.50,601.49 755.50,602.08 755.50,602.08 C755.50,602.08 767.50,603.72 767.50,603.72 C767.50,603.72 779.50,604.82 779.50,604.82 C779.50,604.82 791.50,605.60 791.50,605.60" fill="none" stroke="#ee7f2c" stroke-width="1"/>
<path d="M-0.50,569.26 C-0.50,569.26 11.50,568.75 11.50,568.75 C11.50,568.75 23.50,568.24 23.50,568.24 C23.50,568.24 35.50,565.92 35.50,565.92 C35.50,565.92 47.50,565.45 47.50,565.45 C47.50,565.45 59.50,566.31 59.50,566.31 C59.50,566.31 71.50,569.48 71.50,569.48 C71.50,569.48 83.50,574.91 83.50,574.91 C83.50,574.91 95.50,576.62 95.50,576.62 C95.50,576.62 107.50,580.28 107.50,580.28 C107.50,580.28 119.50,580.40 119.50,580.40 C119.50,580.40 131.50,580.62 131.50,580.62 C131.50,580.62 143.50,584.17 143.50,584.17 C143.50,584.17 155.50,588.54 155.50,588.54 C155.50,588.54 167.50,591.04 167.50,591.04 C167.50,591.04 179.50,592.77 179.50,592.77 C179.50,592.77 191.50,590.47 191.50,590.47 C191.50,590.47 203.50,587.66 203.50,587.66 C203.50,587.66 215.50,585.43 215.50,585.43 C215.50,585.43 227.50,581.01 227.50,581.01 C227.50,581.01 239.50,576.53 239.50,576.53 C239.50,576.53 251.50,574.28 251.50,574.28 C251.50,574.28 263.50,569.91 263.50,569.91 C263.50,569.91 275.50,564.81 275.50,564.81 C275.50,564.81 287.50,561.22 287.50,561.22 C287.50,561.22 299.50,555.41 299.50,555.41 C299.50,555.41 311.50,549.29 311.50,549.29 C311.50,549.29 323.50,545.73 323.50,545.73 C323.50,545.73 335.50,542.21 335.50,542.21 C335.50,542.21 347.50,540.78 347.50,540.78 C347.50,540.78 359.50,540.10 359.50,540.10 C359.50,540.10 371.50,542.56 371.50,542.56 C371.50,542.56 383.50,546.39 383.50,546.39 C383.50,546.39 395.50,549.27 395.50,549.27 C395.50,549.27 407.50,558.71 407.50,558.71 C407.50,558.71 419.50,572.14 419.50,572.14 C419.50,572.14 431.50,589.59 431.50,589.59 C431.50,589.59 443.50,602.80 443.50,602.80 C443.50,602.80 455.50,606.39 455.50,606.39 C455.50,606.39 467.50,606.72 467.50,606.72 C467.50,606.72 479.50,599.20 479.50,599.20 C479.50,599.20 491.50,600.76 491.50,600.76 C491.50,600.76 503.50,596.97 503.50,596.97 C503.50,596.97 515.50,595.04 515.50,595.04 C515.50,595.04 527.50,593.64 527.50,593.64 C527.50,593.64 539.50,591.68 539.50,591.68 C539.50,591.68 551.50,590.53 551.50,590.53 C551.50,590.53 563.50,594.26 563.50,594.26 C563.50,594.26 575.50,596.32 575.50,596.32 C575.50,596.32 587.50,600.96 587.50,600.96 C587.50,600.96 599.50,604.06 599.50,604.06 C599.50,604.06 611.50,610.39 611.50,610.39 C611.50,610.39 623.50,617.52 623.50,617.52 C623.50,617.52 635.50,623.53 635.50,623.53 C635.50,623.53 647.50,627.30 647.50,627.30 C647.50,627.30 659.50,626.11 659.50,626.11 C659.50,626.11 671.50,625.79 671.50,625.79 C671.50,625.79 683.50,622.88 683.50,622.88 C683.50,622.88 695.50,617.01 695.50,617.01 C695.50,617.01 707.50,612.41 707.50,612.41 C707.50,612.41 719.50,604.59 719.50,604.59 C719.50,604.59 731.50,600.38 731.50,600.38 C731.50,600.38 743.50,597.11 743.50,597.11 C743.50,597.11 755.50,596.12 755.50,596.12 C755.50,596.12 767.50,600.48 767.50,600.48 C767.50,600.48 779.50,604.78 779.50,604.78 C779.50,604.78 791.50,605.60 791.50,605.60" fill="none" stroke="#4f9ad8" stroke-width="1"/>
</g>
</svg></body></html>
